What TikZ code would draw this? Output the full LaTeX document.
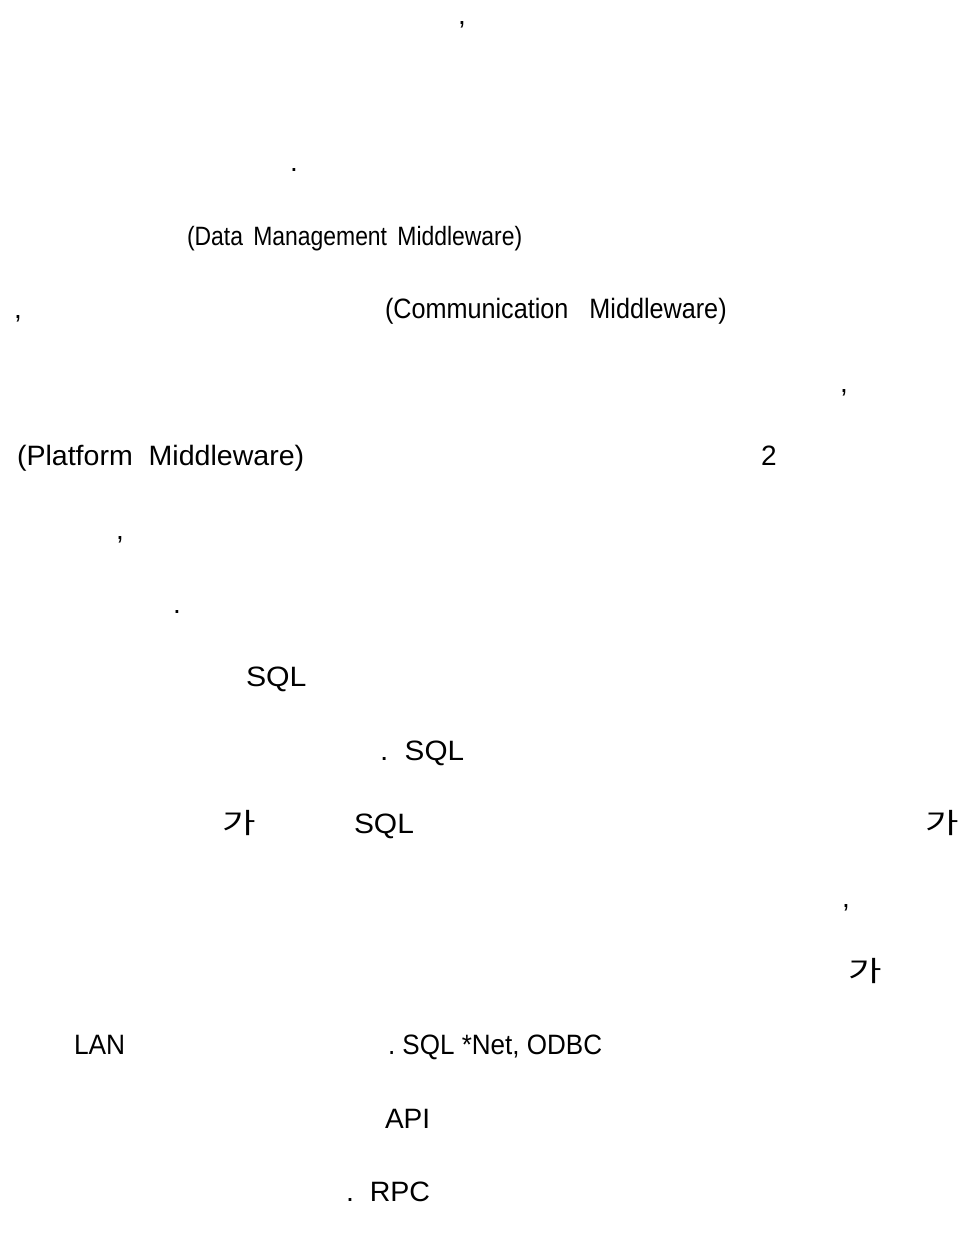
\documentclass[tikz,border=0pt]{standalone}
\usepackage{fontspec}
\usepackage{graphicx}
\setmainfont{Liberation Sans}
\newfontfamily\krfont{Noto Sans CJK KR}
% horizontally squeezed or widened text: \sx{factor}{text}
\newcommand{\sx}[2]{\scalebox{#1}[1]{#2}}
\tikzset{
  txt/.style={anchor=base west, inner sep=0pt, outer sep=0pt, font=\fontsize{28}{32}\selectfont},
  kr/.style={txt, font=\fontsize{28}{32}\selectfont\krfont}
}
\begin{document}
\begin{tikzpicture}[x=1pt,y=-1pt]
  \useasboundingbox (0,0) rectangle (960,1239);
  % line baselines: 245 + 73.6*(k-3)
  \node[txt] (c0)  at (458,24.2)   {,};
  \node[txt] (p2)  at (290,171.6)  {.};
  \node[txt, font=\fontsize{26.5}{30}\selectfont] (dmm) at (187,245)
    {\sx{0.865}{(Data\hspace{0.45em}Management\hspace{0.45em}Middleware)}};
  \node[txt] (c4)  at (14,318.6)   {,};
  \node[txt] (cmm) at (385,318.6)  {\sx{0.90}{(Communication\ \ \ Middleware)}};
  \node[txt] (c5)  at (840,392.2)  {,};
  \node[txt] (pmm) at (17,465.8)   {\sx{1.02}{(Platform\ \ Middleware)}};
  \node[txt] (two) at (761,465.8)  {2};
  \node[txt] (c7)  at (116,539.4)  {,};
  \node[txt] (p8)  at (173,613)    {.};
  \node[txt] (sql9)  at (246,686.6) {\sx{1.08}{SQL}};
  \node[txt] (sql10) at (380,760.2) {\sx{1.06}{.\ \ SQL}};
  \node[kr]  (ga11a) at (222,833.8) {\sx{1.3}{가}};
  \node[txt] (sql11) at (354,833.8) {\sx{1.07}{SQL}};
  \node[kr]  (ga11b) at (925,833.8) {\sx{1.3}{가}};
  \node[txt] (c12)  at (842,907.4)  {,};
  \node[kr]  (ga13) at (848,981)    {\sx{1.3}{가}};
  \node[txt] (lan)  at (74,1054.6)  {\sx{0.94}{LAN}};
  \node[txt] (odbc) at (388,1054.6) {\sx{0.93}{.\ SQL *Net, ODBC}};
  \node[txt] (api)  at (385,1128.2) {API};
  \node[txt] (rpc)  at (346,1201.8) {\sx{1.02}{.\ \ RPC}};
\end{tikzpicture}
\end{document}
